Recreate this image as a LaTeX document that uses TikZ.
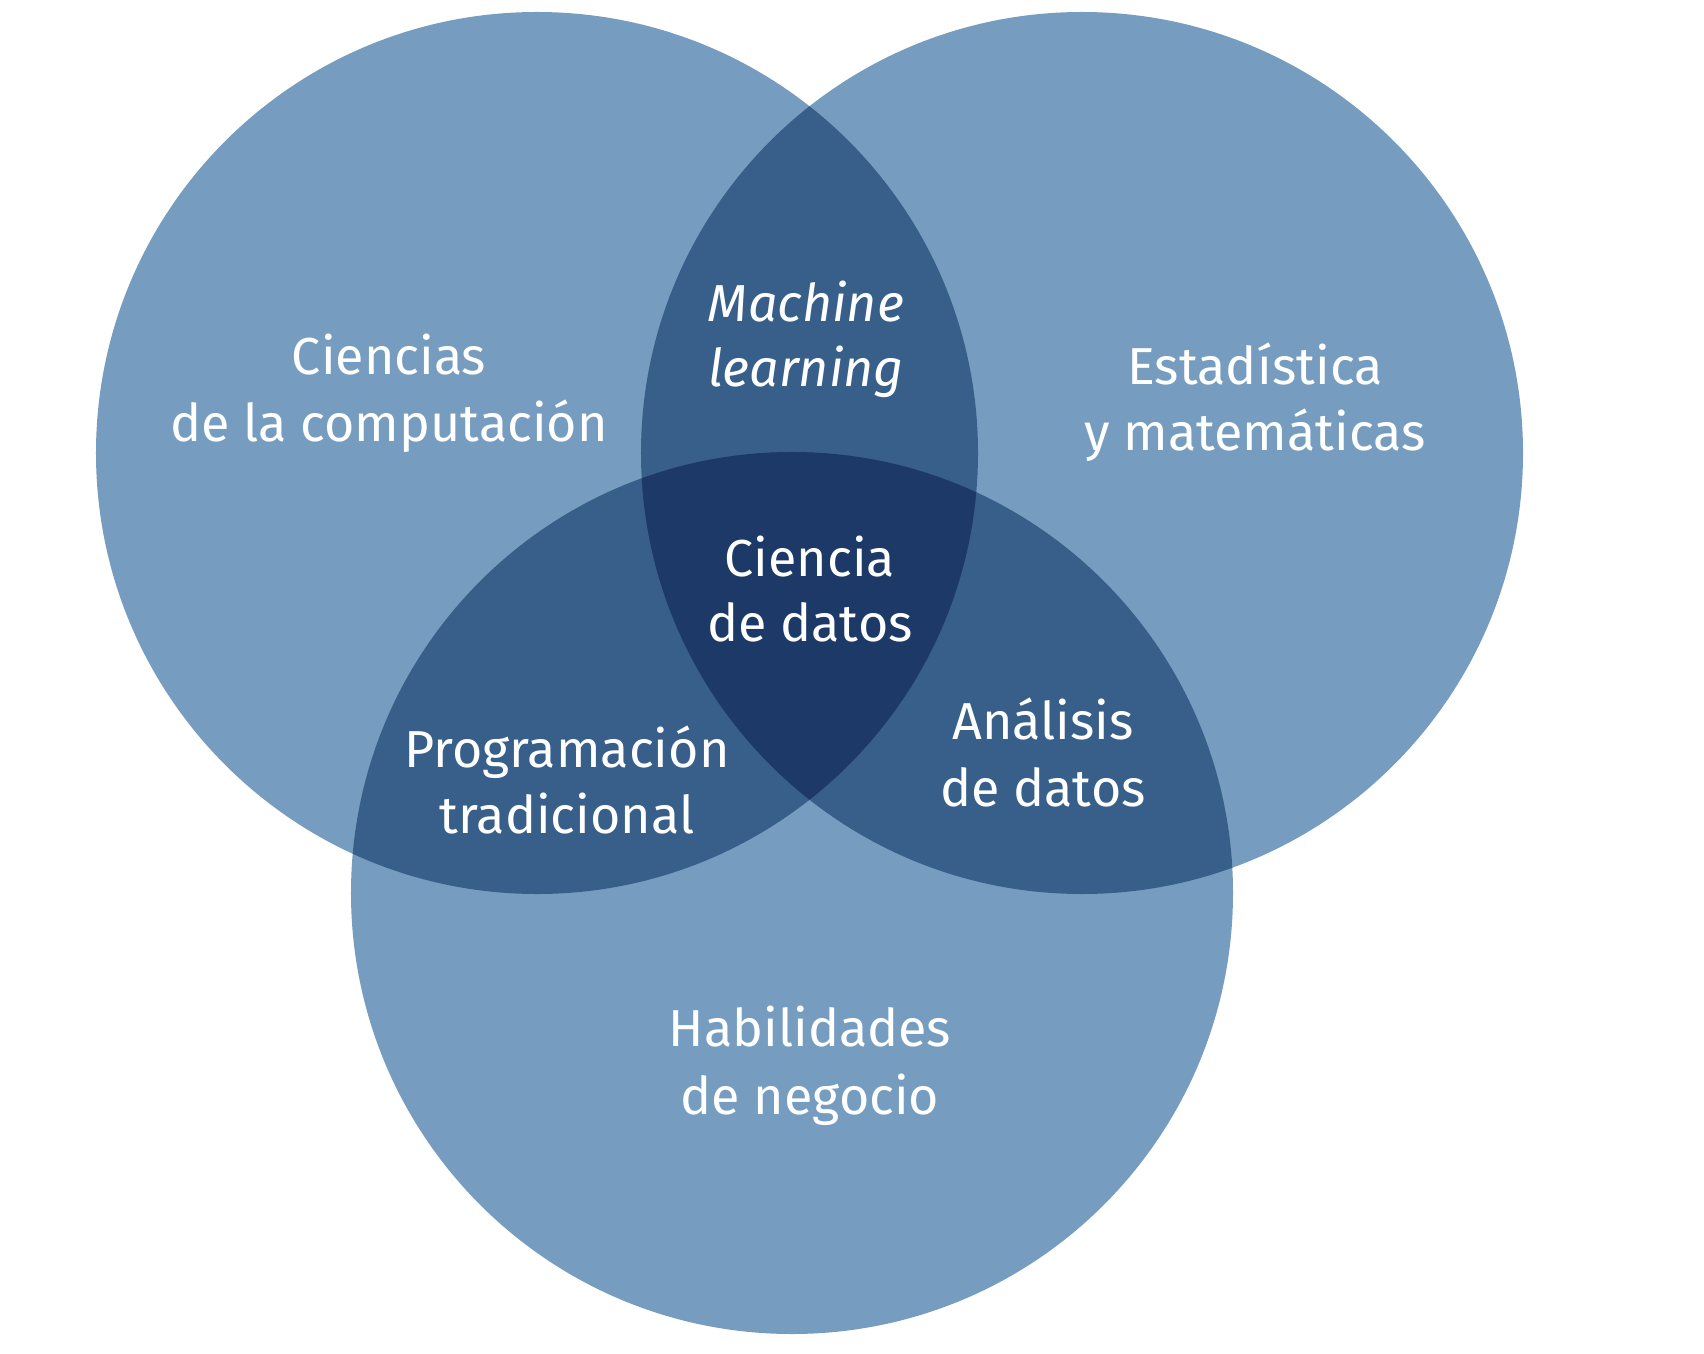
\documentclass[tikz,border=0pt]{standalone}
\usepackage{fontspec}
\setmainfont{Fira Sans}
\definecolor{vlight}{HTML}{769DBF}
\definecolor{vmid}{HTML}{375F8A}
\definecolor{vdark}{HTML}{1C3967}
\tikzset{
  lbl/.style={text=white, anchor=base, inner sep=0pt, font=\fontsize{26bp}{30bp}\selectfont},
  ilbl/.style={lbl, font=\fontsize{26bp}{30bp}\selectfont\itshape},
}
\begin{document}
\begin{tikzpicture}[x=0.5bp,y=-0.5bp]
\useasboundingbox (0,0) rectangle (1704,1354);
\def\R{220.5bp}
\coordinate (A) at (537,453);
\coordinate (B) at (1082,453);
\coordinate (C) at (792,893);
% base circles
\fill[vlight] (A) circle[radius=\R];
\fill[vlight] (B) circle[radius=\R];
\fill[vlight] (C) circle[radius=\R];
% pairwise overlaps
\begin{scope}
  \clip (A) circle[radius=\R];
  \fill[vmid] (B) circle[radius=\R];
  \fill[vmid] (C) circle[radius=\R];
\end{scope}
\begin{scope}
  \clip (B) circle[radius=\R];
  \fill[vmid] (C) circle[radius=\R];
\end{scope}
% triple overlap
\begin{scope}
  \clip (A) circle[radius=\R];
  \clip (B) circle[radius=\R];
  \fill[vdark] (C) circle[radius=\R];
\end{scope}
% labels
\node[lbl] (cc1) at (389,375) {Ciencias};
\node[lbl] (cc2) at (389,441) {de la computación};
\node[ilbl] (ml1) at (806,322) {Machine};
\node[ilbl] (ml2) at (806,387) {learning};
\node[lbl] (em1) at (1255,385) {Estadística};
\node[lbl] (em2) at (1255,450) {y matemáticas};
\node[lbl] (cd1) at (810,576) {Ciencia};
\node[lbl] (cd2) at (810,641) {de datos};
\node[lbl] (pt1) at (567,767) {Programación};
\node[lbl] (pt2) at (567,833) {tradicional};
\node[lbl] (ad1) at (1043,739) {Análisis};
\node[lbl] (ad2) at (1043,806) {de datos};
\node[lbl] (hn1) at (810,1046) {Habilidades};
\node[lbl] (hn2) at (810,1114) {de negocio};
\end{tikzpicture}
\end{document}
